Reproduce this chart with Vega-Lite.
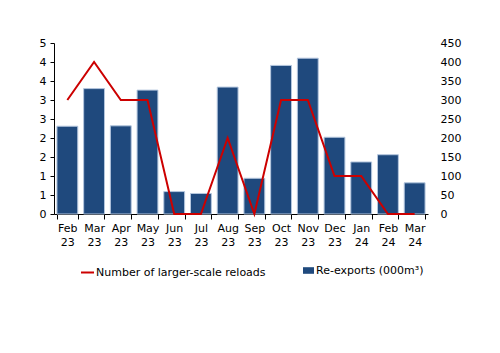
{
  "$schema": "https://vega.github.io/schema/vega-lite/v6.json",
  "autosize": {"type": "none"},
  "width": 374,
  "height": 171,
  "padding": {"left": 54, "top": 43, "right": 72, "bottom": 139},
  "background": "white",
  "config": {
    "view": {"stroke": null},
    "font": "DejaVu Sans",
    "axis": {"labelFont": "DejaVu Sans", "labelFontSize": 11, "labelColor": "#000", "grid": false, "domainColor": "#000", "tickColor": "#000", "title": null},
    "legend": {"labelFont": "DejaVu Sans", "labelFontSize": 11, "labelColor": "#000", "labelLimit": 400}
  },
  "data": {
    "values": [
      {"month": "Feb 23", "reexports": 231, "reloads": 3},
      {"month": "Mar 23", "reexports": 330, "reloads": 4},
      {"month": "Apr 23", "reexports": 232, "reloads": 3},
      {"month": "May 23", "reexports": 326, "reloads": 3},
      {"month": "Jun 23", "reexports": 59, "reloads": 0},
      {"month": "Jul 23", "reexports": 54, "reloads": 0},
      {"month": "Aug 23", "reexports": 334, "reloads": 2},
      {"month": "Sep 23", "reexports": 94, "reloads": 0},
      {"month": "Oct 23", "reexports": 391, "reloads": 3},
      {"month": "Nov 23", "reexports": 410, "reloads": 3},
      {"month": "Dec 23", "reexports": 202, "reloads": 1},
      {"month": "Jan 24", "reexports": 137, "reloads": 1},
      {"month": "Feb 24", "reexports": 156, "reloads": 0},
      {"month": "Mar 24", "reexports": 82, "reloads": 0}
    ]
  },
  "encoding": {
    "x": {
      "field": "month", "type": "nominal", "sort": null,
      "scale": {"paddingInner": 0.22, "paddingOuter": 0.11},
      "axis": {"labelAngle": 0, "labelExpr": "split(datum.label, ' ')", "labelLineHeight": 14, "tickBand": "extent", "tickSize": 5, "labelPadding": 3, "domainWidth": 1}
    }
  },
  "layer": [
    {
      "mark": {"type": "bar", "stroke": "#B4C6DE", "strokeWidth": 1},
      "encoding": {
        "y": {"field": "reexports", "type": "quantitative", "scale": {"domain": [0, 450]},
          "axis": {"orient": "right", "values": [0,50,100,150,200,250,300,350,400,450], "domain": false, "ticks": false, "labelPadding": 12}},
        "fill": {"datum": "Re-exports (000m³)", "type": "nominal", "scale": {"range": ["#1F497D"]},
          "legend": {"title": null, "orient": "none", "legendX": 249, "legendY": 222, "symbolType": "M-1,-0.6L1,-0.6L1,0.6L-1,0.6Z", "symbolSize": 121, "symbolStrokeWidth": 0, "labelOffset": 2}}
      }
    },
    {
      "mark": {"type": "line", "strokeWidth": 2},
      "encoding": {
        "y": {"field": "reloads", "type": "quantitative", "scale": {"domain": [0, 4.5]},
          "axis": {"orient": "left", "values": [0,0.5,1,1.5,2,2.5,3,3.5,4,4.5], "labelExpr": "round(datum.value)", "tickSize": 4, "labelPadding": 4}},
        "stroke": {"datum": "Number of larger-scale reloads", "type": "nominal", "scale": {"range": ["#CC0000"]},
          "legend": {"title": null, "orient": "none", "legendX": 26, "legendY": 222, "symbolType": "stroke", "symbolStrokeWidth": 2, "symbolSize": 169, "labelOffset": 1}}
      }
    }
  ],
  "resolve": {"scale": {"y": "independent", "fill": "independent", "stroke": "independent"}}
}
